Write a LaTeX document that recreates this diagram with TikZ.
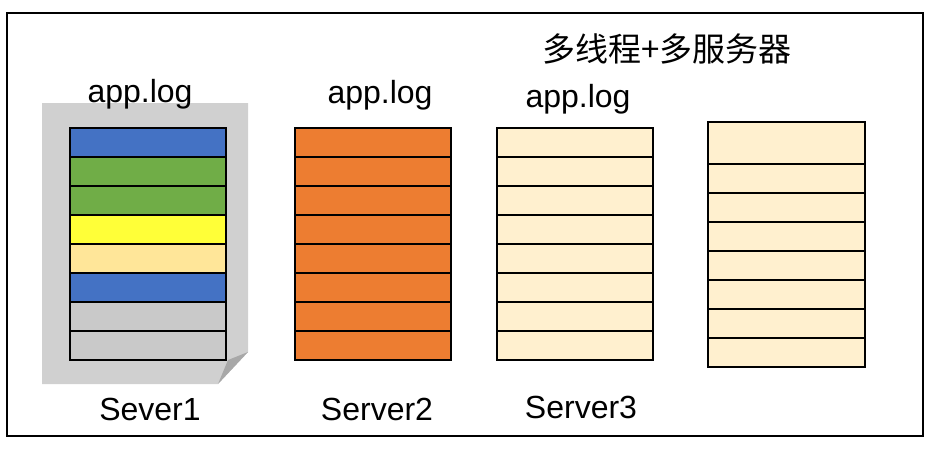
\documentclass[tikz,border=0pt]{standalone}
\usepackage{fontspec}
\setmainfont{Liberation Sans}
\newfontfamily\cjk{Noto Sans CJK SC}
\usepackage{xcolor}
\usetikzlibrary{positioning}

\definecolor{logblue}{HTML}{4472C4}
\definecolor{loggreen}{HTML}{70AD47}
\definecolor{logyellow}{HTML}{FFFF38}
\definecolor{logtan}{HTML}{FFE699}
\definecolor{loggray}{HTML}{C9C9C9}
\definecolor{logorange}{HTML}{ED7D31}
\definecolor{logcream}{HTML}{FFF0CF}
\definecolor{pagegray}{HTML}{D0D0D0}
\definecolor{foldgray}{HTML}{A8A8A8}

\begin{document}
\begin{tikzpicture}[
	x=1pt, y=-1pt,
	font=\fontsize{32}{38}\selectfont,
	row/.style={draw, line width=1.9pt},
	lbl/.style={inner sep=0pt, anchor=base}
]
\useasboundingbox (0,0) rectangle (932,450);

% outer frame
\draw[line width=2.6pt] (7,13) rectangle (923,436);

% the log page behind server 1
\fill[pagegray] (42,103) -- (248,103) -- (248,352) -- (218,384) -- (42,384) -- cycle;
\fill[foldgray] (248,352) -- (218,384) -- (228,360) -- cycle;

% server 1: lines from many threads
\foreach \c [count=\i from 0] in {logblue,loggreen,loggreen,logyellow,logtan,logblue,loggray,loggray}
	\draw[row, fill=\c] (70,{128+29*\i}) rectangle (226,{157+29*\i});

% server 2
\foreach \i in {0,...,7}
	\draw[row, fill=logorange] (295,{128+29*\i}) rectangle (451,{157+29*\i});

% server 3
\foreach \i in {0,...,7}
	\draw[row, fill=logcream] (497,{128+29*\i}) rectangle (653,{157+29*\i});

% merged file
\draw[row, fill=logcream] (708,122) rectangle (865,164);
\foreach \i in {0,...,6}
	\draw[row, fill=logcream] (708,{164+29*\i}) rectangle (865,{193+29*\i});

% labels
\node[lbl, font=\fontsize{33}{38}\selectfont] (title) at (667,61) {\cjk 多线程+多服务器};
\node[lbl] (log1) at (140,102) {app.log};
\node[lbl] (log2) at (380,103) {app.log};
\node[lbl] (log3) at (578,107) {app.log};
\node[lbl] (srv1) at (150,420) {Sever1};
\node[lbl] (srv2) at (377,420) {Server2};
\node[lbl] (srv3) at (581,418) {Server3};

\end{tikzpicture}
\end{document}
